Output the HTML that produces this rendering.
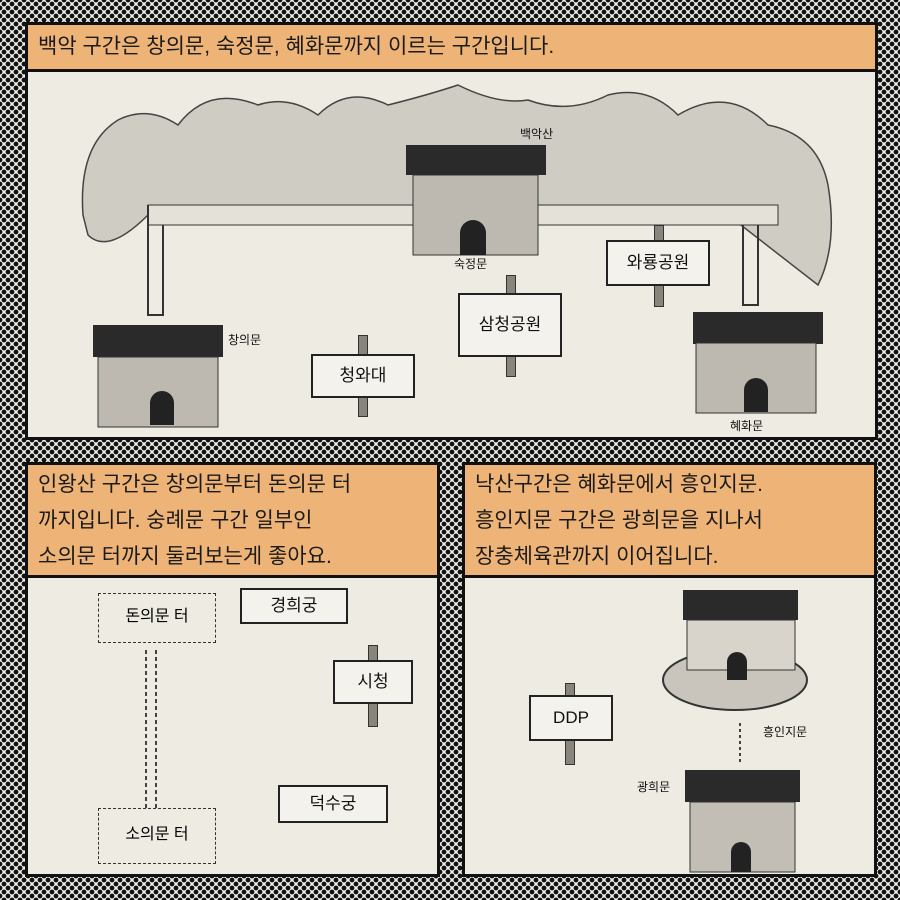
<!DOCTYPE html>
<html><head><meta charset="utf-8"><style>
body{margin:0;width:900px;height:900px;overflow:hidden;
background-color:#f2f0ea;
background-image:radial-gradient(circle,#111 2.2px,transparent 2.6px),radial-gradient(circle,#111 2.2px,transparent 2.6px);
background-size:8px 8px;background-position:0 0,4px 4px;
font-family:"Liberation Sans","Noto Sans CJK KR",sans-serif;position:relative}
.p{position:absolute;background:#eeebe2;border:3px solid #111;box-sizing:border-box;overflow:hidden}
.cap{position:absolute;left:0;right:0;top:0;background:#eeb477;border-bottom:3px solid #111;box-sizing:border-box;color:#1a1a1a;font-size:21px;padding-left:10px}
.sign{position:absolute;background:#f4f2ec;border:2px solid #222;font-size:17px;color:#111;text-align:center;box-sizing:border-box}
.post{position:absolute;width:8px;background:#8a857c;border:1px solid #333}
.dash{position:absolute;border:1.5px dashed #333;font-size:16px;text-align:center;box-sizing:border-box}
.lbl{position:absolute;font-size:12px;color:#111}
svg{position:absolute;left:0;top:0}
</style></head><body>

<div class="p" style="left:25px;top:22px;width:853px;height:418px">
<svg width="853" height="418">
<path d="M55 190 Q50 120 90 95 Q120 80 150 100 Q180 60 230 80 Q260 70 290 90 Q320 60 360 80 Q400 70 430 60 Q470 80 500 75 Q540 90 580 70 Q620 60 650 90 Q700 60 740 100 Q790 110 800 160 Q810 220 790 260 L700 190 L120 190 Q80 230 60 210 Z" fill="#cfccc4" stroke="#444" stroke-width="1.5"/>
<path d="M120 180 L750 180 L750 200 L120 200 Z" fill="#e4e1d8" stroke="#333"/>
<path d="M120 180 L120 290 L135 290 L135 200" fill="none" stroke="#333" stroke-width="2"/>
<path d="M715 200 L715 280 L730 280 L730 200" fill="none" stroke="#333" stroke-width="2"/>
<g fill="#2a2a2a">
<rect x="378" y="120" width="140" height="30"/><rect x="65" y="300" width="130" height="32"/><rect x="665" y="287" width="130" height="32"/>
</g>
<g fill="#bdb9b0" stroke="#333">
<rect x="385" y="150" width="125" height="80"/><rect x="70" y="332" width="120" height="70"/><rect x="668" y="318" width="120" height="70"/>
</g>
<g fill="#222"><path d="M432 230 v-22 a13 13 0 0 1 26 0 v22z"/><path d="M122 400 v-22 a12 12 0 0 1 24 0 v22z"/><path d="M716 387 v-22 a12 12 0 0 1 24 0 v22z"/></g>
</svg>
<div class="cap" style="height:47px;line-height:44px">백악 구간은 창의문, 숙정문, 혜화문까지 이르는 구간입니다.</div>
<div class="lbl" style="left:492px;top:100px">백악산</div>
<div class="lbl" style="left:426px;top:230px">숙정문</div>
<div class="lbl" style="left:200px;top:306px">창의문</div>
<div class="lbl" style="left:702px;top:392px">혜화문</div>
<div class="post" style="left:330px;top:310px;height:80px"></div>
<div class="post" style="left:478px;top:250px;height:100px"></div>
<div class="post" style="left:626px;top:200px;height:80px"></div>
<div class="sign" style="left:283px;top:329px;width:104px;height:44px;line-height:40px">청와대</div>
<div class="sign" style="left:430px;top:268px;width:104px;height:64px;line-height:60px">삼청공원</div>
<div class="sign" style="left:578px;top:215px;width:104px;height:46px;line-height:42px">와룡공원</div>
</div>

<div class="p" style="left:25px;top:462px;width:415px;height:415px">
<div class="cap" style="height:113px;line-height:36px;padding-top:2px">인왕산 구간은 창의문부터 돈의문 터<br>까지입니다. 숭례문 구간 일부인<br>소의문 터까지 둘러보는게 좋아요.</div>
<svg width="415" height="415"><path d="M118 185 V345 M128 185 V345" stroke="#444" stroke-dasharray="4 3" stroke-width="2"/></svg>
<div class="dash" style="left:70px;top:128px;width:118px;height:50px;line-height:46px">돈의문 터</div>
<div class="dash" style="left:70px;top:343px;width:118px;height:56px;line-height:52px">소의문 터</div>
<div class="post" style="left:340px;top:180px;height:80px"></div>
<div class="sign" style="left:212px;top:123px;width:108px;height:36px;line-height:32px">경희궁</div>
<div class="sign" style="left:305px;top:195px;width:80px;height:44px;line-height:40px">시청</div>
<div class="sign" style="left:250px;top:320px;width:110px;height:38px;line-height:34px">덕수궁</div>
</div>

<div class="p" style="left:462px;top:462px;width:415px;height:415px">
<div class="cap" style="height:113px;line-height:36px;padding-top:2px">낙산구간은 혜화문에서 흥인지문.<br>흥인지문 구간은 광희문을 지나서<br>장충체육관까지 이어집니다.</div>
<svg width="415" height="415">
<ellipse cx="270" cy="215" rx="72" ry="30" fill="#c9c5bc" stroke="#333" stroke-width="2"/>
<rect x="218" y="125" width="115" height="30" fill="#2a2a2a"/>
<rect x="222" y="155" width="108" height="50" fill="#d8d4cb" stroke="#333"/>
<path d="M262 215 v-18 a10 10 0 0 1 20 0 v18z" fill="#222"/>
<rect x="220" y="305" width="115" height="32" fill="#2a2a2a"/>
<rect x="225" y="337" width="105" height="70" fill="#c2beb5" stroke="#333"/>
<path d="M266 407 v-20 a10 10 0 0 1 20 0 v20z" fill="#222"/>
<path d="M275 258 v40" stroke="#444" stroke-dasharray="3 3" stroke-width="2"/>
</svg>
<div class="lbl" style="left:298px;top:258px">흥인지문</div>
<div class="lbl" style="left:172px;top:313px">광희문</div>
<div class="post" style="left:100px;top:218px;height:80px"></div>
<div class="sign" style="left:64px;top:230px;width:84px;height:46px;line-height:42px">DDP</div>
</div>
</body></html>
